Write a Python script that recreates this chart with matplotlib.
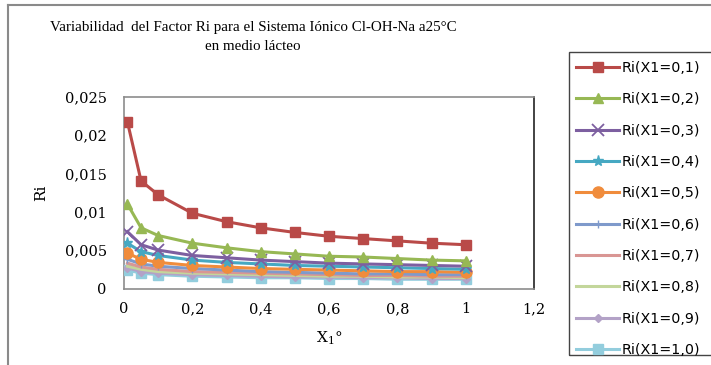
import matplotlib
matplotlib.use("Agg")
import matplotlib.pyplot as plt
from matplotlib.patches import Rectangle
from matplotlib.lines import Line2D
from matplotlib.ticker import FuncFormatter

# Fracción molar X1° en el eje horizontal
x1 = [0.01, 0.05, 0.1, 0.2, 0.3, 0.4, 0.5, 0.6, 0.7, 0.8, 0.9, 1.0]

ri_01 = [0.0217, 0.0140, 0.0122, 0.0098, 0.0087, 0.0079, 0.0073, 0.0068, 0.0065, 0.0062, 0.0059, 0.0057]
ri_02 = [0.0110, 0.0079, 0.0069, 0.0059, 0.0053, 0.0048, 0.0045, 0.0042, 0.0041, 0.0039, 0.0037, 0.0036]
ri_03 = [0.0074, 0.0057, 0.0050, 0.0043, 0.0040, 0.0037, 0.0035, 0.0033, 0.0032, 0.0031, 0.0030, 0.0029]
ri_04 = [0.0059, 0.0048, 0.0043, 0.0037, 0.0034, 0.0032, 0.0030, 0.0029, 0.0028, 0.0027, 0.0026, 0.0025]
ri_05 = [0.0046, 0.0038, 0.0034, 0.0030, 0.0028, 0.0026, 0.0025, 0.0024, 0.0023, 0.0022, 0.0022, 0.0021]
ri_06 = [0.0038, 0.0032, 0.0029, 0.0026, 0.0024, 0.0022, 0.0021, 0.0020, 0.0019, 0.0019, 0.0018, 0.0018]
ri_07 = [0.0033, 0.0028, 0.0025, 0.0022, 0.0021, 0.0020, 0.0019, 0.0018, 0.0017, 0.0017, 0.0016, 0.0016]
ri_08 = [0.0029, 0.0025, 0.0022, 0.0020, 0.0019, 0.0018, 0.0017, 0.0016, 0.0016, 0.0015, 0.0015, 0.0014]
ri_09 = [0.0027, 0.0022, 0.0020, 0.0018, 0.0017, 0.0016, 0.0015, 0.0015, 0.0014, 0.0014, 0.0013, 0.0013]
ri_10 = [0.0024, 0.0020, 0.0018, 0.0016, 0.0015, 0.0014, 0.0014, 0.0013, 0.0013, 0.0012, 0.0012, 0.0012]

series = [ri_01, ri_02, ri_03, ri_04, ri_05, ri_06, ri_07, ri_08, ri_09, ri_10]
labels = ["Ri(X1=0,1)", "Ri(X1=0,2)", "Ri(X1=0,3)", "Ri(X1=0,4)", "Ri(X1=0,5)",
          "Ri(X1=0,6)", "Ri(X1=0,7)", "Ri(X1=0,8)", "Ri(X1=0,9)", "Ri(X1=1,0)"]

colors = ["#B94A48", "#97B854", "#7D5FA0", "#46A8C2", "#F08C3C",
          "#7F9ACB", "#D99694", "#C3D69B", "#B3A2C7", "#93CDDD"]
markers = ["s", "^", "x", "*", "o", "+", None, None, "D", "s"]
msizes = [7, 7, 8, 8, 8, 6, 0, 0, 4, 7]
mews = [1, 1, 1.3, 1.0, 1, 1, 1, 1, 1, 1]

fig = plt.figure(figsize=(7.11, 3.65), dpi=100)
ax = fig.add_axes([124 / 711, 1 - 288.5 / 365, (534 - 124) / 711, (288.5 - 96.5) / 365])

# Paint lighter series first so the stronger ones sit on top
for i in reversed(range(len(series))):
    m = markers[i]
    ax.plot(x1, series[i], color=colors[i], lw=2.2,
            marker=m if m else "None", markersize=msizes[i],
            markeredgewidth=mews[i], markeredgecolor=colors[i],
            markerfacecolor=colors[i], zorder=3 + (10 - i) * 0.1)

handles = [Line2D([], [], color=colors[i], lw=2.2,
                  marker=markers[i] if markers[i] else "None",
                  markersize=msizes[i], markeredgewidth=mews[i],
                  markeredgecolor=colors[i], markerfacecolor=colors[i])
           for i in range(len(series))]

ax.set_xlim(0, 1.2)
ax.set_ylim(0, 0.025)
ax.set_xticks([0, 0.2, 0.4, 0.6, 0.8, 1.0, 1.2])
ax.set_yticks([0, 0.005, 0.01, 0.015, 0.02, 0.025])


def comma_fmt(v, pos):
    s = f"{v:.3f}".rstrip("0").rstrip(".")
    return s.replace(".", ",")


ax.xaxis.set_major_formatter(FuncFormatter(comma_fmt))
ax.yaxis.set_major_formatter(FuncFormatter(comma_fmt))
ax.tick_params(axis="both", length=0, labelsize=10.5)
ax.tick_params(axis="x", pad=10)
ax.tick_params(axis="y", pad=12.5)
for lab in ax.get_xticklabels() + ax.get_yticklabels():
    lab.set_fontfamily("DejaVu Serif")

for side in ["top", "bottom", "left"]:
    ax.spines[side].set_color("#8c8c8c")
    ax.spines[side].set_linewidth(1.2)
ax.spines["right"].set_color("#222222")
ax.spines["right"].set_linewidth(1.2)

ax.set_ylabel("Ri", fontfamily="DejaVu Serif", fontsize=11, labelpad=12)
ax.set_xlabel(r"X$_\mathregular{1}$°", fontfamily="DejaVu Serif", fontsize=11, labelpad=9)

fig.text(253 / 711, 1 - 37 / 365,
         "Variabilidad  del Factor Ri para el Sistema Iónico Cl-OH-Na a25°C\nen medio lácteo",
         ha="center", va="center", fontfamily="Liberation Serif", fontsize=10.8,
         linespacing=1.55)

# Outer chart border
fig.add_artist(Line2D([8 / 711, 8 / 711], [0, 1 - 5 / 365], transform=fig.transFigure,
                      color="#8a8a8a", lw=1.5))
fig.add_artist(Line2D([8 / 711, 1], [1 - 5 / 365, 1 - 5 / 365], transform=fig.transFigure,
                      color="#8a8a8a", lw=1.5))

# Legend frame
fig.add_artist(Rectangle((569 / 711, 1 - 355 / 365), 160 / 711, 303 / 365,
                         transform=fig.transFigure, fill=False, edgecolor="#444444", lw=1.0))

fig.legend(handles, labels, loc="upper left", bbox_to_anchor=(572 / 711, 1 - 56.5 / 365),
           frameon=False, prop={"family": "DejaVu Sans", "size": 10.3},
           handlelength=3.0, handletextpad=0.15, labelspacing=1.215, borderaxespad=0,
           borderpad=0.3)

fig.savefig("out.png", dpi=100)
